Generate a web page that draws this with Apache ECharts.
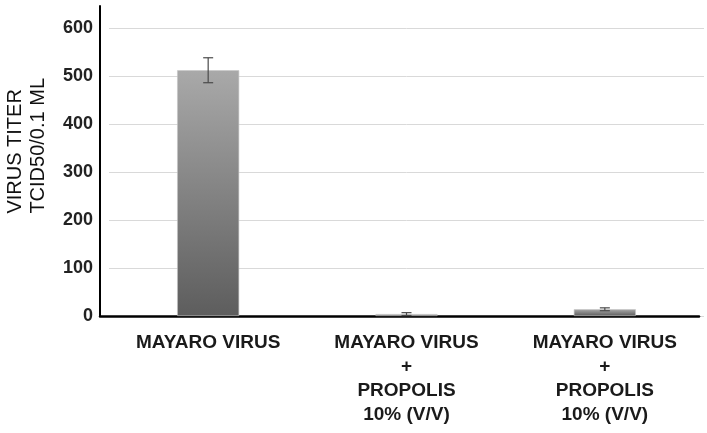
<!DOCTYPE html>
<html>
<head>
<meta charset="utf-8">
<script src="https://cdn.jsdelivr.net/npm/echarts@6/dist/echarts.min.js"></script>
<style>
html,body{margin:0;padding:0;background:#fff;}
#main{width:707px;height:433px;}
</style>
</head>
<body>
<div id="main"></div>
<script>
// 数据
var categories = ['MAYARO VIRUS', 'MAYARO VIRUS\n+\nPROPOLIS\n10% (V/V)', 'MAYARO VIRUS\n+\nPROPOLIS\n10% (V/V)'];
var titers = [512, 4, 14];
var errors = [26, 3, 3];
var yTicks = [0, 100, 200, 300, 400, 500, 600];

var errData = [];
for (var i = 0; i < titers.length; i++) {
	errData.push([i, titers[i] - errors[i], titers[i] + errors[i]]);
}

var chart = echarts.init(document.getElementById('main'));

// 误差线
function renderErr(params, api) {
	var top = api.coord([api.value(0), api.value(2)]);
	var bot = api.coord([api.value(0), api.value(1)]);
	var style = { stroke: '#4a4a4a', lineWidth: 1.2 };
	var half = 5;
	return {
		type: 'group',
		children: [
			{ type: 'line', shape: { x1: top[0], y1: top[1], x2: bot[0], y2: bot[1] }, style: style },
			{ type: 'line', shape: { x1: top[0] - half, y1: top[1], x2: top[0] + half, y2: top[1] }, style: style },
			{ type: 'line', shape: { x1: bot[0] - half, y1: bot[1], x2: bot[0] + half, y2: bot[1] }, style: style }
		]
	};
}

var option = {
	backgroundColor: '#fff',
	animation: false,
	grid: [
		{ left: 109, right: 3, top: 28, bottom: 117 },
		{ left: 100, right: 8, top: 6, bottom: 117 }
	],
	xAxis: [
		{
			type: 'category', gridIndex: 0, data: categories,
			axisLine: { show: false }, axisTick: { show: false },
			axisLabel: {
				interval: 0, margin: 15, color: '#1a1a1a',
				fontFamily: 'Liberation Sans, Arial', fontWeight: 'bold',
				fontSize: 19, lineHeight: 24
			}
		},
		{
			type: 'value', gridIndex: 1, min: 0, max: 1,
			axisLine: { show: true, onZero: false, lineStyle: { color: '#000', width: 2.5 } },
			axisTick: { show: false }, axisLabel: { show: false }, splitLine: { show: false }
		}
	],
	yAxis: [
		{
			type: 'value', gridIndex: 0, min: yTicks[0], max: yTicks[yTicks.length - 1], interval: 100,
			axisLine: { show: false }, axisTick: { show: false },
			axisLabel: {
				margin: 16, color: '#222',
				fontFamily: 'Liberation Sans, Arial', fontWeight: 'bold', fontSize: 18
			},
			splitLine: { show: true, lineStyle: { color: '#d9d9d9', width: 1 } }
		},
		{
			type: 'value', gridIndex: 1, min: 0, max: 646,
			axisLine: { show: true, onZero: false, lineStyle: { color: '#000', width: 2 } },
			axisTick: { show: false }, axisLabel: { show: false }, splitLine: { show: false }
		}
	],
	graphic: [
		{
			type: 'text', left: 4, top: 78, rotation: Math.PI / 2,
			style: {
				text: 'VIRUS TITER\nTCID50/0.1 ML', fill: '#111',
				font: '20px "Liberation Sans", Arial', lineHeight: 23, align: 'center'
			}
		}
	],
	series: [
		{
			type: 'bar', xAxisIndex: 0, yAxisIndex: 0, data: titers, barWidth: 62,
			itemStyle: {
				color: new echarts.graphic.LinearGradient(0, 0, 0, 1, [
					{ offset: 0, color: '#a9a9a9' },
					{ offset: 1, color: '#5d5d5d' }
				]),
				borderColor: '#c4c4c4', borderWidth: 0.6
			}
		},
		{
			type: 'custom', xAxisIndex: 0, yAxisIndex: 0, data: errData,
			renderItem: renderErr, z: 5
		}
	]
};
chart.setOption(option);
</script>
</body>
</html>
